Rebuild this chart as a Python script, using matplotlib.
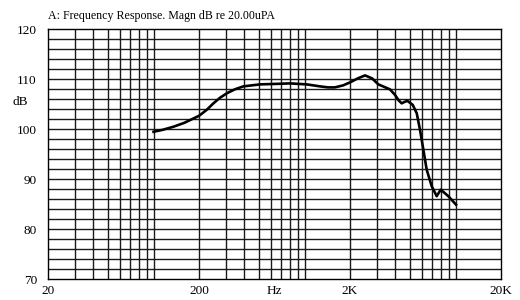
import numpy as np
import matplotlib
matplotlib.use('Agg')
import matplotlib.pyplot as plt

plt.rcParams['font.family'] = ['Liberation Serif', 'DejaVu Serif']

# response curve (Hz, dB)
freq = [100, 115, 135, 160, 200, 225, 249, 275, 305, 345, 393, 507, 650,
        801, 1034, 1266, 1430, 1588, 1800, 2000, 2250, 2515, 2800, 3080,
        3680, 3970, 4200, 4398, 4600, 4797, 5203, 5534, 5813, 6120, 6440,
        6950, 7500, 7980, 8950, 10070]
spl = [99.5, 99.9, 100.5, 101.3, 102.7, 103.9, 105.2, 106.3, 107.2, 108.0,
       108.6, 109.0, 109.1, 109.2, 109.0, 108.6, 108.4, 108.4, 108.8, 109.4,
       110.2, 110.8, 110.2, 109.0, 108.0, 106.9, 105.8, 105.2, 105.5, 105.7,
       104.9, 103.2, 99.9, 95.9, 91.9, 88.6, 86.6, 87.9, 86.6, 84.9]

xticks = [20, 200, 2000, 20000]
xlabels = ['20', '200', '2K', '20K']
yticks = [70, 80, 90, 100, 110, 120]

fig = plt.figure(figsize=(5.2, 3.0), dpi=100)
ax = fig.add_axes([0.0923, 0.07, 0.8712, 0.8317])
ax.set_xscale('log')
ax.set_xlim(20, 20000)
ax.set_ylim(70, 120)

# grid
for dec in [10, 100, 1000, 10000]:
    for m in range(1, 10):
        f = dec * m
        if 20 < f < 20000:
            ax.axvline(f, color='0.1', lw=1.0, zorder=1)
for y in range(72, 120, 2):
    ax.axhline(y, color='0.1', lw=1.0, zorder=1)

ax.plot(freq, spl, color='black', lw=1.9, zorder=3)

ax.set_xticks(xticks)
ax.set_xticklabels(xlabels)
ax.set_yticks(yticks)
ax.minorticks_off()
ax.tick_params(length=0, labelsize=9.5, pad=4)
ax.tick_params(axis='y', pad=8)
for s in ax.spines.values():
    s.set_linewidth(1.0)

ax.annotate('Hz', xy=(632, 0), xycoords=('data', 'axes fraction'),
            xytext=(0, -4), textcoords='offset points',
            ha='center', va='top', fontsize=9.5)
ax.text(-0.078, 0.71, 'dB', transform=ax.transAxes, ha='left', va='center',
        fontsize=9.5)
ax.text(0.0, 1.03, 'A: Frequency Response. Magn dB re 20.00uPA',
        transform=ax.transAxes, ha='left', va='bottom', fontsize=8.6)

fig.savefig('out.png', dpi=100)
